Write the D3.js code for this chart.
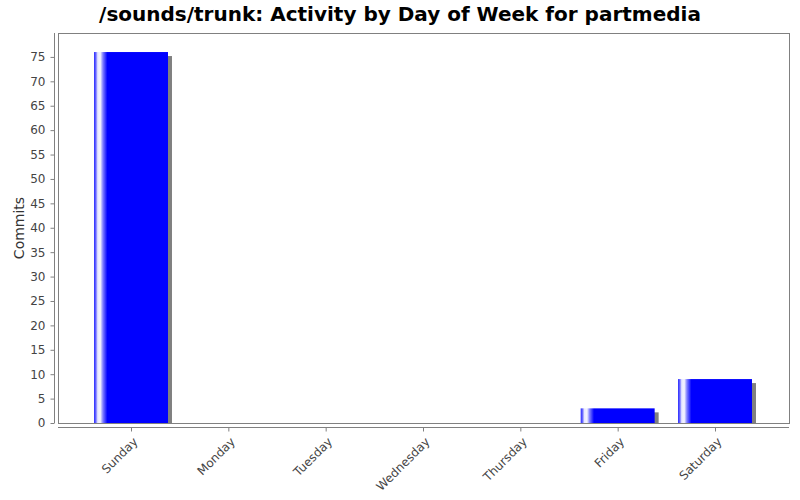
<!DOCTYPE html>
<html>
<head>
<meta charset="utf-8">
<script src="https://cdn.jsdelivr.net/npm/d3@7"></script>
<style>
body { margin: 0; background: #fff; }
svg { display: block; }
svg text { font-family: "DejaVu Sans", sans-serif; }
.axis-text { font-size: 12px; fill: #444; }
</style>
</head>
<body>
<div id="chart"></div>
<script>
var days = ["Sunday", "Monday", "Tuesday", "Wednesday", "Thursday", "Friday", "Saturday"];
var commits = [76, 0, 0, 0, 0, 3, 9];
var yTicks = [0, 5, 10, 15, 20, 25, 30, 35, 40, 45, 50, 55, 60, 65, 70, 75];
var title = "/sounds/trunk: Activity by Day of Week for partmedia";
var yLabel = "Commits";

var width = 800, height = 500;
var plot = {left: 58, right: 789, top: 33, bottom: 423};

var svg = d3.select("#chart").append("svg")
	.attr("width", width)
	.attr("height", height);

//Bar gradient, light stripe near the left edge
var grad = svg.append("defs").append("linearGradient")
	.attr("id", "barGrad")
	.attr("x1", "0").attr("x2", "1").attr("y1", "0").attr("y2", "0");
[[0, "#2828ff"], [0.025, "#6a6aff"], [0.05, "#e8e8ff"], [0.085, "#f4f4ff"], [0.12, "#8080ff"], [0.18, "#0000ff"], [1, "#0000ff"]]
	.forEach(function(s){
		grad.append("stop").attr("offset", s[0]).attr("stop-color", s[1]);
	});

//Scales
var xScale = d3.scalePoint()
	.domain(days)
	.range([131, 715]);
var barW = xScale.step() * 0.76;
var yScale = d3.scaleLinear()
	.domain([0, 79.9])
	.range([plot.bottom, plot.top]);

//Plot box
svg.append("rect")
	.attr("x", plot.left + 0.5)
	.attr("y", plot.top + 0.5)
	.attr("width", plot.right - plot.left)
	.attr("height", plot.bottom - plot.top)
	.attr("fill", "#fff")
	.attr("stroke", "#808080");

//Shadows then bars
var bars = svg.append("g");
bars.selectAll(".shadow")
	.data(commits)
	.enter().append("rect")
	.attr("class", "shadow")
	.attr("x", function(d, i){ return xScale(days[i]) - barW / 2 + 4; })
	.attr("y", function(d){ return yScale(d) + 4; })
	.attr("width", barW)
	.attr("height", function(d){ return d > 0 ? Math.max(0, yScale(0) - yScale(d) - 4) : 0; })
	.attr("fill", "#808080");

bars.selectAll(".bar")
	.data(commits)
	.enter().append("rect")
	.attr("class", "bar")
	.attr("x", function(d, i){ return xScale(days[i]) - barW / 2; })
	.attr("y", function(d){ return yScale(d); })
	.attr("width", barW)
	.attr("height", function(d){ return yScale(0) - yScale(d); })
	.attr("fill", "url(#barGrad)");

//Y axis, offset a little from the plot
var yAxis = d3.axisLeft(yScale)
	.tickValues(yTicks)
	.tickSize(4)
	.tickPadding(5);
var gy = svg.append("g")
	.attr("transform", "translate(54.5,0)")
	.call(yAxis)
	.attr("font-family", null)
	.attr("font-size", null);
gy.select(".domain").attr("stroke", "#808080").attr("d", "M0," + plot.top + "V" + plot.bottom);
gy.selectAll(".tick line").attr("stroke", "#808080");
gy.selectAll(".tick text").attr("class", "axis-text");

//X axis
var xAxis = d3.axisBottom(xScale)
	.tickSize(4)
	.tickPadding(4);
var gx = svg.append("g")
	.attr("transform", "translate(0,427.5)")
	.call(xAxis)
	.attr("font-family", null)
	.attr("font-size", null);
gx.select(".domain").attr("stroke", "#808080").attr("d", "M" + plot.left + ",0H" + plot.right);
gx.selectAll(".tick line").attr("stroke", "#808080");
gx.selectAll(".tick text")
	.attr("class", "axis-text")
	.attr("text-anchor", "end")
	.attr("dy", "0.35em")
	.attr("transform", "translate(4,12)rotate(-45)")
	.attr("y", 0)
	.attr("x", 0);

//Axis title
svg.append("text")
	.attr("text-anchor", "middle")
	.attr("transform", "translate(24," + ((plot.top + plot.bottom) / 2) + ")rotate(-90)")
	.attr("font-size", 14)
	.attr("fill", "#333")
	.text(yLabel);

//Title
svg.append("text")
	.attr("text-anchor", "middle")
	.attr("x", width / 2)
	.attr("y", 21)
	.attr("font-size", 20)
	.attr("font-weight", "bold")
	.attr("fill", "#000")
	.text(title);
</script>
</body>
</html>
